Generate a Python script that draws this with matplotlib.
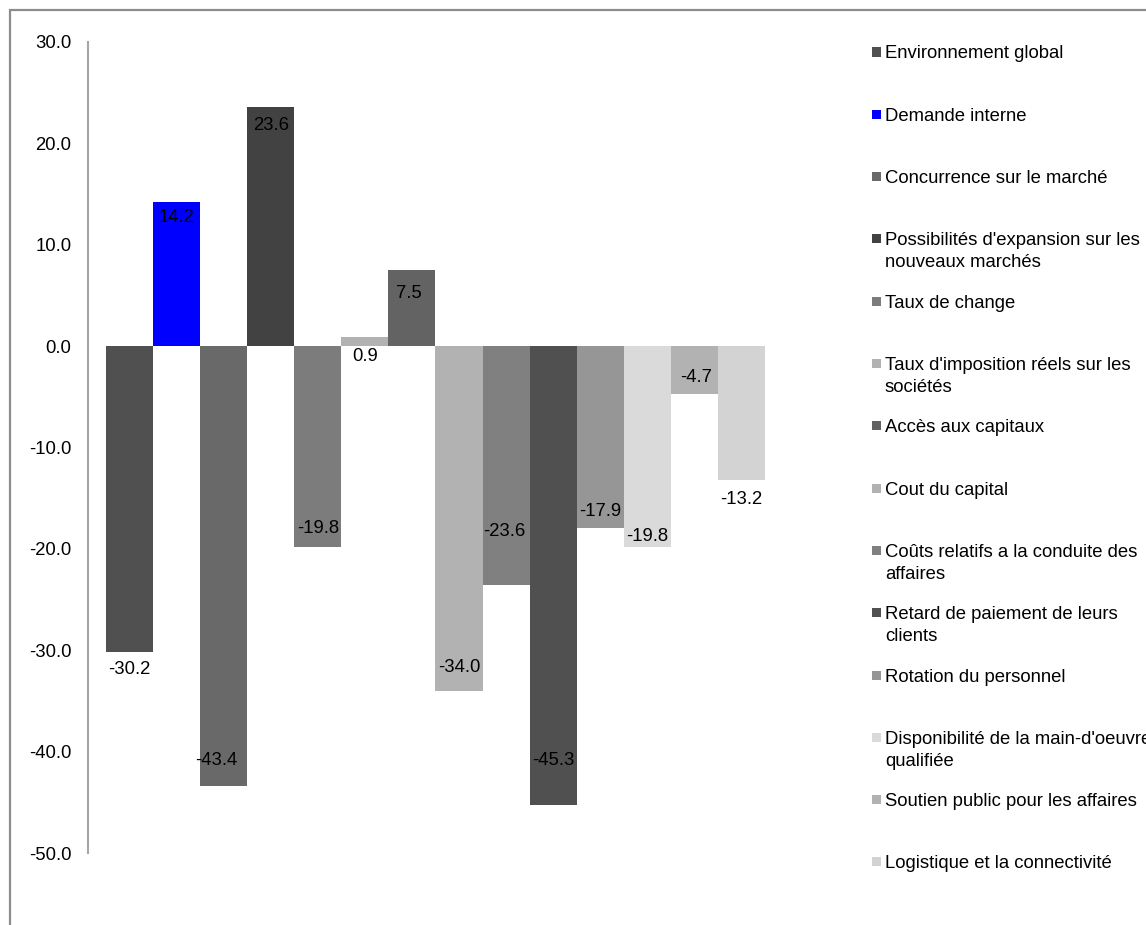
import matplotlib
matplotlib.use("Agg")
import matplotlib.pyplot as plt
from matplotlib.patches import Rectangle

# ==================== données ====================
categories = [
    "Environnement global",
    "Demande interne",
    "Concurrence sur le marché",
    "Possibilités d'expansion sur les\nnouveaux marchés",
    "Taux de change",
    "Taux d'imposition réels sur les\nsociétés",
    "Accès aux capitaux",
    "Cout du capital",
    "Coûts relatifs a la conduite des\naffaires",
    "Retard de paiement de leurs\nclients",
    "Rotation du personnel",
    "Disponibilité de la main-d'oeuvre\nqualifiée",
    "Soutien public pour les affaires",
    "Logistique et la connectivité",
]
values = [-30.2, 14.2, -43.4, 23.6, -19.8, 0.9, 7.5, -34.0, -23.6, -45.3, -17.9, -19.8, -4.7, -13.2]
colors = ["#505050", "#0000ff", "#696969", "#424242", "#7c7c7c", "#b2b2b2", "#636363",
          "#b2b2b2", "#808080", "#505050", "#969696", "#dadada", "#b2b2b2", "#d3d3d3"]
y_ticks = [30, 20, 10, 0, -10, -20, -30, -40, -50]

# position verticale des étiquettes (unités de données) et décalage horizontal (pts)
label_y = [-31.9, 12.7, -40.9, 21.8, -18.0, -1.0, 5.2, -31.7, -18.3, -40.9, -16.3, -18.8, -3.1, -15.1]
label_dx = [0, 0, -5, 0, 0, 0, -2, 0, -1, 0, 0, 0, 1, 0]

plt.rcParams['font.family'] = ['Liberation Sans', 'DejaVu Sans']
FS = 13.3

W, H = 1146, 925
fig = plt.figure(figsize=(W / 100, H / 100), dpi=100)

# cadre du graphique
fig.patches.append(Rectangle((10 / W, -0.1), 1.2, 1 - 10 / H + 0.1, transform=fig.transFigure,
                             fill=False, edgecolor="#8c8c8c", linewidth=1.6))

ax = fig.add_axes([88 / W, 1 - 853 / H, 695 / W, 811 / H])
x = list(range(len(values)))
ax.bar(x, values, width=1.0, color=colors, linewidth=0)

for xi, v, ly, dx in zip(x, values, label_y, label_dx):
    ax.annotate(f"{v:.1f}", xy=(xi, ly), xytext=(dx, 0), textcoords="offset points",
                ha="center", va="center", fontsize=FS, color="black")

gap = 18 / 47.07
ax.set_xlim(-0.5 - gap, len(values) - 0.5 + gap)
ax.set_ylim(-50, 30)
ax.set_yticks(y_ticks)
ax.set_yticklabels([f"{t:.1f}" for t in y_ticks], fontsize=FS)
ax.tick_params(axis="y", length=0, pad=11.9)
ax.set_xticks([])
for s in ["top", "right", "bottom"]:
    ax.spines[s].set_visible(False)
ax.spines["left"].set_color("#a6a6a6")
ax.spines["left"].set_linewidth(1.5)

# légende (entrées espacées régulièrement, carré aligné sur la première ligne)
for i, (lab, c) in enumerate(zip(categories, colors)):
    yc = 52 + 62.3 * i
    fig.patches.append(Rectangle((872 / W, 1 - (yc + 4.5) / H), 9 / W, 9 / H,
                                 transform=fig.transFigure, facecolor=c, edgecolor="none"))
    fig.text(885 / W, 1 - (yc - 6.5) / H, lab, ha="left", va="top", fontsize=FS,
             linespacing=1.39, color="black")

fig.savefig("out.png", dpi=100)
